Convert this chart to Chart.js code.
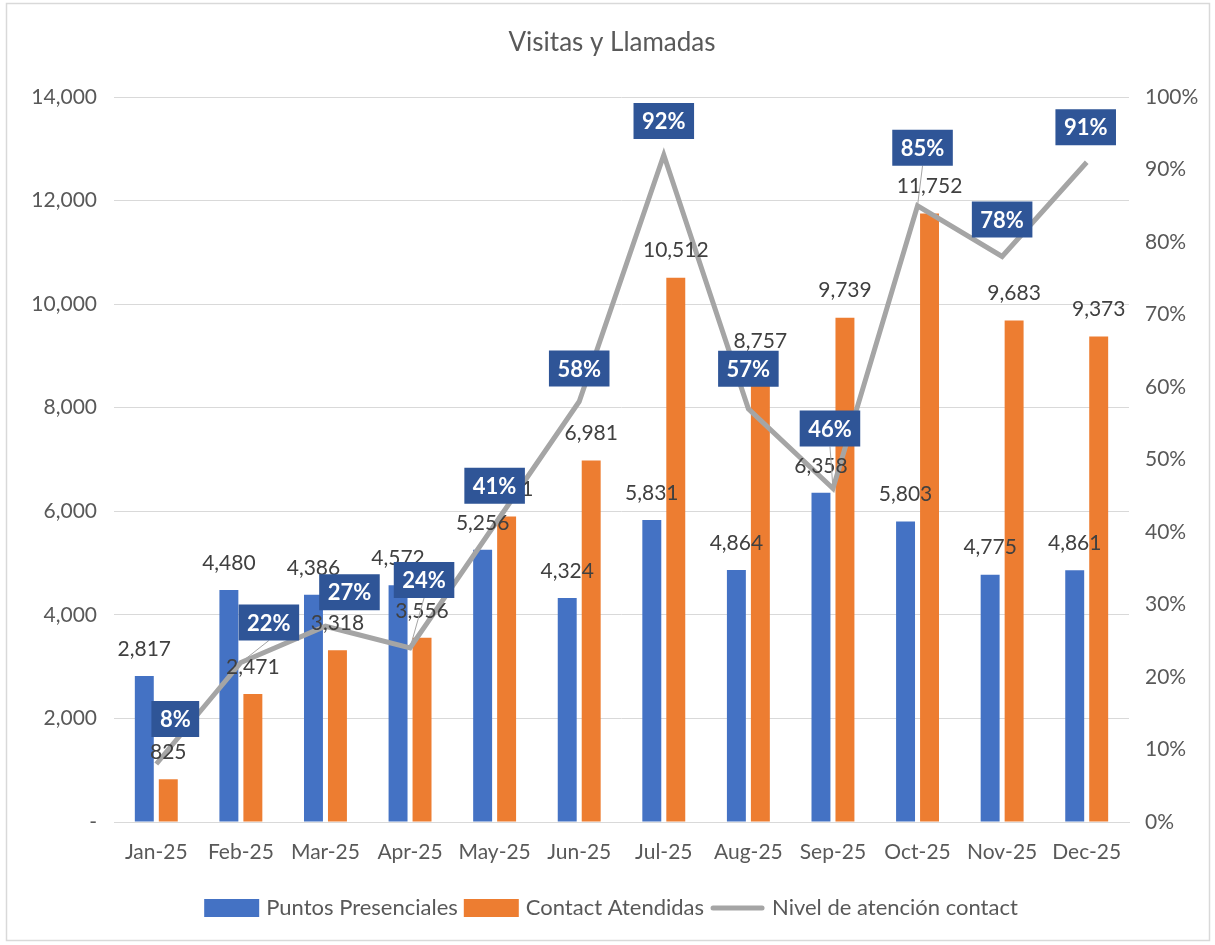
<!DOCTYPE html>
<html>
<head>
<meta charset="utf-8">
<title>Visitas y Llamadas</title>
<script src="https://cdn.jsdelivr.net/npm/chart.js@4.4.1/dist/chart.umd.min.js"></script>
<style>
  html, body { margin: 0; padding: 0; background: #fff; }
  #wrap { position: relative; width: 1215px; height: 945px; }
</style>
</head>
<body>
<div id="wrap"><canvas id="grafico" width="1215" height="945"></canvas></div>
<script>
const titulo = "Visitas y Llamadas";
const meses = ["Jan-25", "Feb-25", "Mar-25", "Apr-25", "May-25", "Jun-25", "Jul-25", "Aug-25", "Sep-25", "Oct-25", "Nov-25", "Dec-25"];
const puntosPresenciales = [2817, 4480, 4386, 4572, 5256, 4324, 5831, 4864, 6358, 5803, 4775, 4861];
const contactAtendidas = [825, 2471, 3318, 3556, 5901, 6981, 10512, 8757, 9739, 11752, 9683, 9373];
const nivelAtencion = [8, 22, 27, 24, 41, 58, 92, 57, 46, 85, 78, 91]; // en %

const FUENTE = "Lato, 'Open Sans', sans-serif";
const GRIS_TXT = "#595959";

// desplazamiento (dx, dy) del centro de cada caja % respecto al punto de la linea,
// como quedaron movidas a mano en el Excel original
const posCajas = [[19, -45], [28, -40], [24, -34], [14, -68], [0, -39], [0, -33],
                  [0, -34], [0, -40], [-3, -60], [5, -58], [0, -37], [-1, -35]];

// numero con separador de miles
function formatar(n) {
  return n.toLocaleString("en-US");
}

// etiquetas, titulo, leyenda y borde dibujados a mano
const extras = {
  id: "extras",
  beforeDraw(chart) {
    const ctx = chart.ctx;
    ctx.save();
    ctx.fillStyle = "#fff";
    ctx.fillRect(0, 0, chart.width, chart.height);
    ctx.strokeStyle = "#d9d9d9";
    ctx.lineWidth = 1.5;
    ctx.strokeRect(6.5, 3.5, 1203, 937);
    ctx.fillStyle = GRIS_TXT;
    ctx.font = "26px " + FUENTE;
    ctx.textAlign = "center";
    ctx.textBaseline = "middle";
    ctx.fillText(titulo, 612, 43);
    ctx.restore();
  },
  afterDatasetsDraw(chart) {
    const ctx = chart.ctx;
    ctx.save();
    ctx.textAlign = "center";
    ctx.textBaseline = "middle";

    // valores de las barras
    ctx.font = "21px " + FUENTE;
    ctx.fillStyle = "#404040";
    [0, 1].forEach(i => {
      const ds = chart.data.datasets[i];
      chart.getDatasetMeta(i).data.forEach((bar, j) => {
        ctx.fillText(formatar(ds.data[j]), bar.x, bar.y - 27);
      });
    });

    // cajas de porcentaje sobre la linea
    ctx.font = "bold 22px " + FUENTE;
    chart.getDatasetMeta(2).data.forEach((pt, j) => {
      const txt = nivelAtencion[j] + "%";
      const w = ctx.measureText(txt).width + 17;
      const h = 36;
      const [dx, dy] = posCajas[j] || [0, -36];
      const cx = pt.x + dx, cy = pt.y + dy;
      // linea guia cuando la etiqueta quedo lejos del punto
      if (dy < -50 || Math.abs(dx) > 25) {
        ctx.strokeStyle = "#A5A5A5";
        ctx.lineWidth = 1;
        ctx.beginPath();
        ctx.moveTo(cx, cy + h / 2);
        ctx.lineTo(pt.x, pt.y);
        ctx.stroke();
      }
      ctx.fillStyle = "#2F5597";
      ctx.fillRect(cx - w / 2, cy - h / 2, w, h);
      ctx.fillStyle = "#fff";
      ctx.fillText(txt, cx, cy + 1);
    });
    ctx.restore();
  },
  afterDraw(chart) {
    // leyenda
    const ctx = chart.ctx;
    ctx.save();
    ctx.font = "22px " + FUENTE;
    ctx.textBaseline = "middle";
    const y = 908;
    const marca = 55, sep = 7, entre = 6;
    const items = chart.data.datasets.map(d => ({ txt: d.label, color: d.type === "line" ? d.borderColor : d.backgroundColor, linea: d.type === "line" }));
    let total = 0;
    items.forEach(it => { it.w = ctx.measureText(it.txt).width; total += marca + sep + it.w; });
    total += entre * (items.length - 1);
    let x = 611 - total / 2;
    items.forEach(it => {
      if (it.linea) {
        ctx.strokeStyle = it.color;
        ctx.lineWidth = 5;
        ctx.lineCap = "round";
        ctx.beginPath();
        ctx.moveTo(x + 3, y);
        ctx.lineTo(x + marca - 3, y);
        ctx.stroke();
      } else {
        ctx.fillStyle = it.color;
        ctx.fillRect(x, y - 9, marca, 18);
      }
      x += marca + sep;
      ctx.fillStyle = GRIS_TXT;
      ctx.fillText(it.txt, x, y);
      x += it.w + entre;
    });
    ctx.restore();
  }
};

new Chart(document.getElementById("grafico"), {
  data: {
    labels: meses,
    datasets: [
      {
        type: "bar",
        label: "Puntos Presenciales",
        data: puntosPresenciales,
        backgroundColor: "#4472C4",
        yAxisID: "y",
        order: 1,
        categoryPercentage: 0.567,
        barPercentage: 0.79
      },
      {
        type: "bar",
        label: "Contact Atendidas",
        data: contactAtendidas,
        backgroundColor: "#ED7D31",
        yAxisID: "y",
        order: 1,
        categoryPercentage: 0.567,
        barPercentage: 0.79
      },
      {
        type: "line",
        label: "Nivel de atención contact",
        data: nivelAtencion,
        borderColor: "#A5A5A5",
        backgroundColor: "#A5A5A5",
        borderWidth: 5,
        pointRadius: 0,
        tension: 0,
        yAxisID: "y2",
        order: 0
      }
    ]
  },
  options: {
    responsive: false,
    animation: false,
    devicePixelRatio: 1,
    layout: { padding: { top: 97, bottom: 73, left: 0, right: 0 } },
    plugins: {
      legend: { display: false },
      title: { display: false },
      tooltip: { enabled: false }
    },
    scales: {
      x: {
        grid: { display: false, drawTicks: false },
        border: { display: true, color: "#d9d9d9", width: 1 },
        ticks: { color: GRIS_TXT, font: { family: FUENTE, size: 21 }, padding: 18, maxRotation: 0 },
        afterFit: s => { s.height = 50; }
      },
      y: {
        position: "left",
        min: 0,
        max: 14000,
        ticks: {
          stepSize: 2000,
          color: GRIS_TXT,
          font: { family: FUENTE, size: 21 },
          padding: 17,
          callback: v => v === 0 ? "-" : formatar(v)
        },
        grid: { color: "#d9d9d9", lineWidth: 1, drawTicks: false },
        border: { display: false },
        afterFit: s => { s.width = 114; }
      },
      y2: {
        position: "right",
        min: 0,
        max: 100,
        ticks: {
          stepSize: 10,
          color: GRIS_TXT,
          font: { family: FUENTE, size: 21 },
          padding: 16,
          callback: v => v + "%"
        },
        grid: { display: false, drawTicks: false },
        border: { display: false },
        afterFit: s => { s.width = 86; }
      }
    }
  },
  plugins: [extras]
});
</script>
</body>
</html>
